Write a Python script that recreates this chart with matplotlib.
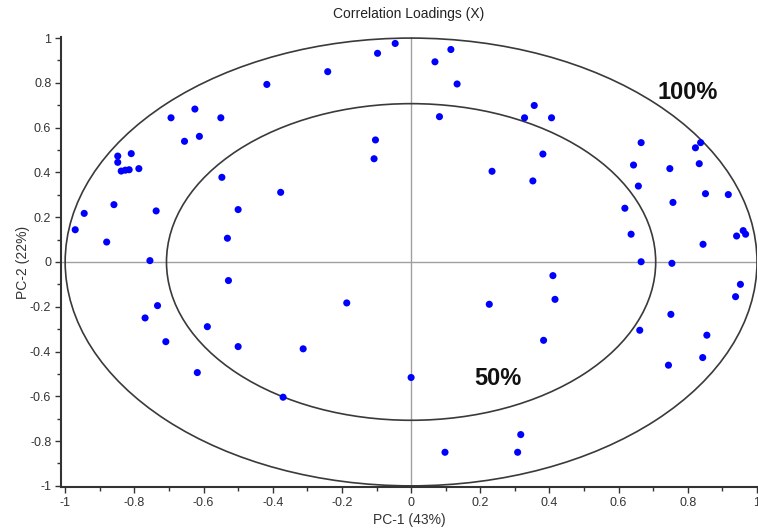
import numpy as np
import matplotlib
matplotlib.use("Agg")
import matplotlib.pyplot as plt
from matplotlib.patches import Ellipse
from matplotlib.ticker import MultipleLocator

# Loadings (PC-1, PC-2)
pc1 = [
    -0.046, -0.097, -0.241, -0.417, -0.625, -0.694, -0.550, -0.655, -0.612,
    -0.848, -0.848, -0.809, -0.838, -0.826, -0.815, -0.787, -0.103, -0.107,
    -0.547, -0.377, -0.500, -0.531, -0.737, -0.859, -0.945, -0.971, -0.880,
    -0.755,
    0.115, 0.069, 0.133, 0.082, 0.356, 0.328, 0.406, 0.381, 0.234, 0.352,
    0.665, 0.643, 0.657, 0.618, 0.636, 0.665, 0.754, 0.748, 0.757, 0.822,
    0.837, 0.833, 0.851, 0.917, 0.844, 0.941, 0.960, 0.967,
    -0.528, -0.733, -0.769, -0.589, -0.709, -0.500, -0.312, -0.186, -0.618,
    -0.370, 0.000,
    0.410, 0.416, 0.226, 0.383, 0.952, 0.938, 0.751, 0.661, 0.855, 0.843,
    0.744, 0.317, 0.308, 0.098,
]
pc2 = [
    0.976, 0.932, 0.850, 0.793, 0.683, 0.644, 0.644, 0.539, 0.561,
    0.473, 0.445, 0.484, 0.406, 0.410, 0.412, 0.417, 0.545, 0.461,
    0.378, 0.311, 0.234, 0.106, 0.228, 0.256, 0.217, 0.144, 0.089,
    0.006,
    0.949, 0.894, 0.795, 0.649, 0.699, 0.644, 0.644, 0.482, 0.405, 0.362,
    0.533, 0.433, 0.339, 0.240, 0.124, 0.001, -0.006, 0.417, 0.266, 0.510,
    0.533, 0.439, 0.305, 0.301, 0.079, 0.116, 0.140, 0.124,
    -0.083, -0.195, -0.250, -0.289, -0.356, -0.378, -0.388, -0.183, -0.494,
    -0.604, -0.516,
    -0.061, -0.167, -0.189, -0.350, -0.100, -0.155, -0.234, -0.305, -0.327,
    -0.427, -0.461, -0.771, -0.850, -0.850,
]

# explained variance circles
radii = [1.0, np.sqrt(0.5)]
circle_labels = ["100%", "50%"]
label_pos = [(0.80, 0.755), (0.25, -0.52)]

plt.rcParams['font.family'] = ['Liberation Sans', 'DejaVu Sans']

fig = plt.figure(figsize=(7.58, 5.28), dpi=100)
ax = fig.add_axes([0.0805, 0.0777, 0.9182, 0.8523])

ax.axhline(0, color='#a0a0a0', lw=1.0, zorder=1)
ax.axvline(0, color='#a0a0a0', lw=1.0, zorder=1)

for r in radii:
    ax.add_patch(Ellipse((0, 0), 2 * r, 2 * r, fill=False,
                         edgecolor='#3a3a3a', lw=1.2, zorder=2))

for txt, (tx, ty) in zip(circle_labels, label_pos):
    ax.text(tx, ty, txt, fontsize=17, fontweight='bold', color='#111111',
            ha='center', va='center', zorder=4)

ax.scatter(pc1, pc2, s=26, color='#0000ff', edgecolors='none', zorder=3)

ax.set_xlim(-1.012, 1.0)
ax.set_ylim(-1.005, 1.005)

ax.xaxis.set_major_locator(MultipleLocator(0.2))
ax.xaxis.set_minor_locator(MultipleLocator(0.1))
ax.yaxis.set_major_locator(MultipleLocator(0.2))
ax.yaxis.set_minor_locator(MultipleLocator(0.1))

def fmt(v, pos):
    s = f"{v:.1f}"
    if s in ("-0.0", "0.0"):
        return "0"
    if s.endswith(".0"):
        s = s[:-2]
    return s

ax.xaxis.set_major_formatter(plt.FuncFormatter(fmt))
ax.yaxis.set_major_formatter(plt.FuncFormatter(fmt))

for side in ('top', 'right'):
    ax.spines[side].set_visible(False)
for side in ('left', 'bottom'):
    ax.spines[side].set_color('#333333')
    ax.spines[side].set_linewidth(1.5)

ax.tick_params(which='major', direction='out', length=4, width=1.0,
               color='#333333', labelsize=9, labelcolor='#333333', pad=3)
ax.tick_params(which='minor', direction='out', length=3, width=1.0,
               color='#333333')

ax.set_title("Correlation Loadings (X)", fontsize=10, color='#222222', pad=14)
ax.set_xlabel("PC-1 (43%)", fontsize=10, color='#333333', labelpad=3)
ax.set_ylabel("PC-2 (22%)", fontsize=10, color='#333333', labelpad=0)

fig.savefig("out.png", dpi=100)
